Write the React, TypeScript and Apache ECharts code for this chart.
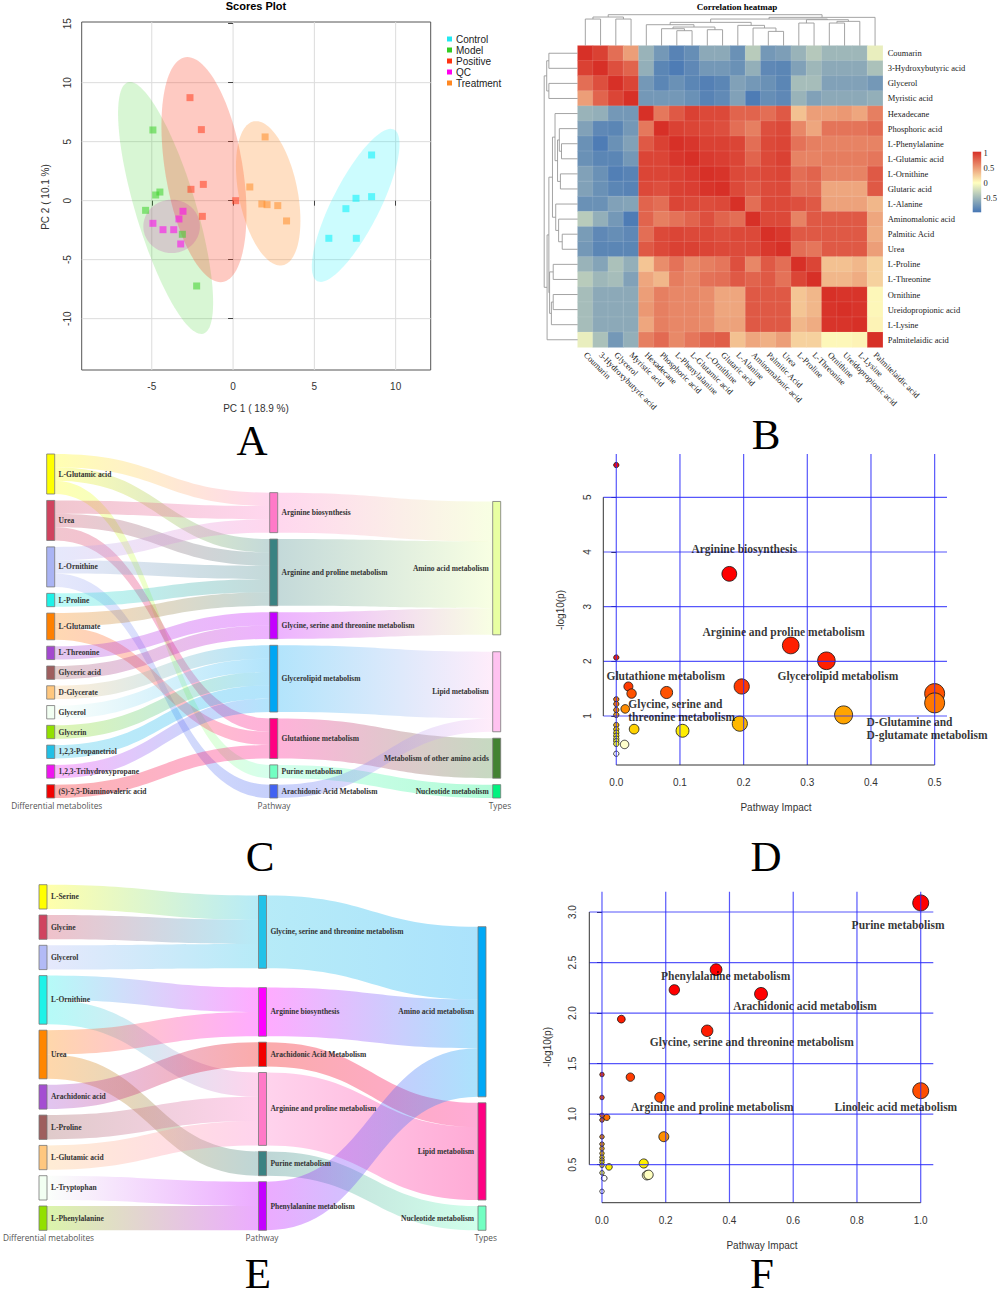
import React, { useEffect, useRef } from 'react';
import * as echarts from 'echarts';

const SERIF = "'Liberation Serif', 'Times New Roman', serif";
const SANS = "'Liberation Sans', Arial, sans-serif";
const CAPTION = "'Open Sans', 'Liberation Sans', sans-serif";

// ================= Panel A : PCA scores =================
const pcaGroups = ['Control', 'Model', 'Positive', 'QC', 'Treatment'];
const controlPC1 = [8.52, 7.56, 8.52, 6.94, 5.89, 7.58];
const controlPC2 = [3.87, 0.2, 0.34, -0.68, -3.19, -3.19];
const modelPC1 = [-4.93, -4.76, -4.5, -5.38, -3.12, -2.24];
const modelPC2 = [5.99, 0.48, 0.73, -0.82, -2.85, -7.23];
const positivePC1 = [-2.65, -1.95, -1.83, -2.59, 0.16, -1.89];
const positivePC2 = [8.73, 6.02, 1.38, 0.96, 0.0, -1.33];
const qcPC1 = [-3.08, -3.33, -4.93, -4.31, -3.65, -3.22];
const qcPC2 = [-0.9, -1.55, -1.92, -2.46, -2.46, -3.67];
const treatmentPC1 = [1.97, 1.03, 1.77, 2.09, 2.75, 3.29];
const treatmentPC2 = [5.4, 1.16, -0.28, -0.34, -0.42, -1.72];
// confidence ellipses (data units): centre, end of major semi-axis, minor/major ratio
const ellipseCX = [7.54, -4.15, -1.79, -3.78, 2.16];
const ellipseCY = [-0.4, -0.62, 2.63, -2.18, 0.62];
const ellipseTipX = [9.9, -6.47, -2.94, -3.78, 1.27];
const ellipseTipY = [6.02, 10.03, 12.15, 0.08, 6.72];
const ellipseRatio = [0.28, 0.23, 0.34, 1.06, 0.4];
const pcaTicksX = [-5, 0, 5, 10];
const pcaTicksY = [-10, -5, 0, 5, 10, 15];
const pcaLegendColors = ['#22E8F0', '#33CC22', '#FF3311', '#FF00EE', '#FF8822'];
const pcaPointColors = ['#00F0FA', '#3CD228', '#FF3C1E', '#FF00F0', '#FF8C28'];
const pcaEllipseFill = [
  'rgba(0,240,250,0.2)',
  'rgba(60,210,40,0.2)',
  'rgba(250,60,30,0.27)',
  'rgba(200,40,170,0.2)',
  'rgba(255,140,40,0.28)',
];

// ================= Panel B : correlation heatmap =================
const heatNames = [
  'Coumarin', '3-Hydroxybutyric acid', 'Glycerol', 'Myristic acid', 'Hexadecane',
  'Phosphoric acid', 'L-Phenylalanine', 'L-Glutamic acid', 'L-Ornithine', 'Glutaric acid',
  'L-Alanine', 'Aminomalonic acid', 'Palmitic Acid', 'Urea', 'L-Proline',
  'L-Threonine', 'Ornithine', 'Ureidopropionic acid', 'L-Lysine', 'Palmitelaidic acid',
];
const corrMatrix = [
  [1.0, 0.92, 0.7, 0.47, -0.55, -0.75, -0.9, -0.82, -0.62, -0.62, -0.8, -0.38, -0.75, -0.7, -0.55, -0.4, -0.52, -0.52, -0.52, -0.12],
  [0.92, 1.0, 0.85, 0.75, -0.58, -0.88, -0.95, -0.86, -0.75, -0.75, -0.8, -0.58, -0.86, -0.88, -0.68, -0.52, -0.62, -0.62, -0.62, -0.45],
  [0.7, 0.85, 1.0, 0.9, -0.75, -0.88, -0.8, -0.88, -0.92, -0.88, -0.68, -0.75, -0.8, -0.88, -0.48, -0.48, -0.68, -0.68, -0.68, -0.75],
  [0.47, 0.75, 0.9, 1.0, -0.75, -0.75, -0.75, -0.8, -0.9, -0.85, -0.68, -0.95, -0.82, -0.86, -0.55, -0.68, -0.62, -0.62, -0.62, -0.58],
  [-0.55, -0.58, -0.75, -0.75, 1.0, 0.65, 0.8, 0.92, 0.88, 0.88, 0.75, 0.75, 0.7, 0.8, 0.3, 0.47, 0.47, 0.5, 0.43, 0.62],
  [-0.68, -0.86, -0.88, -0.75, 0.65, 1.0, 0.92, 0.9, 0.88, 0.85, 0.7, 0.62, 0.85, 0.88, 0.58, 0.43, 0.67, 0.67, 0.67, 0.72],
  [-0.8, -0.95, -0.8, -0.68, 0.8, 0.92, 1.0, 0.97, 0.92, 0.92, 0.9, 0.7, 0.88, 0.9, 0.68, 0.62, 0.6, 0.6, 0.6, 0.6],
  [-0.8, -0.88, -0.88, -0.75, 0.9, 0.9, 0.97, 1.0, 0.95, 0.93, 0.9, 0.75, 0.88, 0.92, 0.6, 0.6, 0.63, 0.63, 0.63, 0.66],
  [-0.68, -0.8, -0.93, -0.9, 0.9, 0.9, 0.92, 0.95, 1.0, 0.98, 0.88, 0.85, 0.88, 0.9, 0.7, 0.75, 0.6, 0.6, 0.6, 0.8],
  [-0.68, -0.8, -0.88, -0.9, 0.88, 0.85, 0.92, 0.93, 0.98, 1.0, 0.88, 0.8, 0.87, 0.88, 0.7, 0.72, 0.43, 0.43, 0.43, 0.8],
  [-0.8, -0.8, -0.68, -0.66, 0.75, 0.7, 0.9, 0.88, 0.86, 0.88, 1.0, 0.7, 0.88, 0.88, 0.85, 0.8, 0.45, 0.45, 0.45, 0.35],
  [-0.38, -0.58, -0.75, -0.95, 0.75, 0.62, 0.68, 0.75, 0.85, 0.75, 0.7, 1.0, 0.88, 0.88, 0.6, 0.8, 0.8, 0.8, 0.8, 0.43],
  [-0.72, -0.86, -0.82, -0.86, 0.7, 0.88, 0.9, 0.88, 0.88, 0.85, 0.88, 0.88, 1.0, 0.96, 0.8, 0.8, 0.8, 0.8, 0.8, 0.4],
  [-0.75, -0.88, -0.88, -0.88, 0.8, 0.88, 0.92, 0.92, 0.9, 0.88, 0.87, 0.88, 0.96, 1.0, 0.7, 0.66, 0.8, 0.8, 0.8, 0.47],
  [-0.55, -0.66, -0.45, -0.58, 0.28, 0.55, 0.68, 0.57, 0.62, 0.66, 0.85, 0.58, 0.8, 0.7, 1.0, 0.9, 0.3, 0.3, 0.35, 0.22],
  [-0.38, -0.52, -0.48, -0.68, 0.43, 0.35, 0.63, 0.58, 0.68, 0.7, 0.8, 0.75, 0.8, 0.68, 0.9, 1.0, 0.35, 0.35, 0.4, 0.22],
  [-0.48, -0.62, -0.62, -0.62, 0.47, 0.62, 0.58, 0.58, 0.55, 0.43, 0.43, 0.8, 0.8, 0.8, 0.28, 0.35, 1.0, 0.98, 0.98, 0.04],
  [-0.48, -0.62, -0.62, -0.62, 0.5, 0.62, 0.58, 0.58, 0.55, 0.43, 0.43, 0.8, 0.8, 0.8, 0.28, 0.35, 0.98, 1.0, 0.98, 0.04],
  [-0.48, -0.62, -0.62, -0.62, 0.43, 0.62, 0.58, 0.58, 0.55, 0.45, 0.45, 0.8, 0.8, 0.8, 0.35, 0.4, 0.98, 0.98, 1.0, 0.06],
  [-0.12, -0.45, -0.75, -0.58, 0.62, 0.72, 0.57, 0.66, 0.75, 0.78, 0.3, 0.43, 0.38, 0.47, 0.22, 0.22, 0.04, 0.04, 0.06, 1.0],
];
// hierarchical clustering merges (leaves 0..19, merge k -> node 20+k), relative heights
const dendroLeft = [0, 2, 20, 6, 5, 8, 24, 4, 12, 11, 10, 27, 14, 16, 33, 32, 31, 36, 22];
const dendroRight = [1, 3, 21, 7, 23, 9, 25, 26, 13, 28, 29, 30, 15, 17, 18, 34, 35, 19, 37];
const dendroHeight = [0.86, 0.86, 0.925, 0.484, 0.548, 0.516, 0.602, 0.677, 0.462, 0.57, 0.656, 0.753, 0.731, 0.731, 0.785, 0.839, 0.86, 0.914, 1.0];
const heatScaleTicks = ['1', '0.5', '0', '-0.5'];
const heatScaleValues = [1, 0.5, 0, -0.5];

// ================= Panel C : Sankey =================
const cMetabolites = [
  'L-Glutamic acid', 'Urea', 'L-Ornithine', 'L-Proline', 'L-Glutamate', 'L-Threonine', 'Glyceric acid',
  'D-Glycerate', 'Glycerol', 'Glycerin', '1,2,3-Propanetriol', '1,2,3-Trihydroxypropane', '(S)-2,5-Diaminovaleric acid',
];
const cPathways = [
  'Arginine biosynthesis', 'Arginine and proline metabolism', 'Glycine, serine and threonine metabolism',
  'Glycerolipid metabolism', 'Glutathione metabolism', 'Purine metabolism', 'Arachidonic Acid Metabolism',
];
const cTypes = ['Amino acid metabolism', 'Lipid metabolism', 'Metabolism of other amino acids', 'Nucleotide metabolism'];
const cLinkSource = [
  'L-Glutamic acid', 'L-Glutamic acid', 'L-Glutamic acid', 'Urea', 'Urea', 'Urea',
  'L-Ornithine', 'L-Ornithine', 'L-Ornithine', 'L-Proline', 'L-Glutamate', 'L-Glutamate',
  'L-Threonine', 'Glyceric acid', 'D-Glycerate', 'Glycerol', 'Glycerin', '1,2,3-Propanetriol',
  '1,2,3-Trihydroxypropane', '(S)-2,5-Diaminovaleric acid',
  'Arginine biosynthesis', 'Arginine and proline metabolism', 'Glycine, serine and threonine metabolism',
  'Glycerolipid metabolism', 'Glutathione metabolism', 'Purine metabolism', 'Arachidonic Acid Metabolism',
];
const cLinkTarget = [
  'Arginine biosynthesis', 'Arginine and proline metabolism', 'Purine metabolism',
  'Arginine biosynthesis', 'Arginine and proline metabolism', 'Glutathione metabolism',
  'Arginine biosynthesis', 'Arginine and proline metabolism', 'Arachidonic Acid Metabolism',
  'Arginine and proline metabolism', 'Arginine and proline metabolism', 'Glutathione metabolism',
  'Glycine, serine and threonine metabolism', 'Glycine, serine and threonine metabolism',
  'Glycerolipid metabolism', 'Glycerolipid metabolism', 'Glycerolipid metabolism', 'Glycerolipid metabolism',
  'Glycerolipid metabolism', 'Glutathione metabolism',
  'Amino acid metabolism', 'Amino acid metabolism', 'Amino acid metabolism',
  'Lipid metabolism', 'Metabolism of other amino acids', 'Nucleotide metabolism', 'Lipid metabolism',
];
const cLinkValue = [1, 1, 1, 1, 1, 1, 1, 1, 1, 1, 1, 1, 1, 1, 1, 1, 1, 1, 1, 1, 3, 5, 2, 5, 3, 1, 1];
const cMetaboliteColors = ['#FFFF00', '#D0435F', '#AAB4F4', '#1EF2E8', '#FF8000', '#A348CF', '#9E5E5E', '#FFC77E', '#F2FFF2', '#92E000', '#22C0E6', '#F014F0', '#F20000'];
const cPathwayColors = ['#FF7AC8', '#3A8282', '#C400FF', '#00A6F4', '#FF0082', '#72FFC2', '#4262F2'];
const cTypeColors = ['#E8FFA2', '#FFC2F0', '#428232', '#00F27E'];

// ================= Panel D : pathway impact =================
const dImpact = [0, 0.1775, 0.274, 0.33, 0, 0.197, 0.019, 0.024, 0.079, 0.5, 0.5, 0.014, 0.357, 0.194, 0.028, 0.104, 0.013, 0, 0, 0, 0, 0, 0, 0, 0, 0, 0, 0, 0];
const dLogP = [5.59, 3.6, 2.29, 2.01, 2.07, 1.54, 1.54, 1.41, 1.43, 1.41, 1.24, 1.13, 1.02, 0.86, 0.76, 0.73, 0.48, 0.31, 1.305, 1.22, 1.11, 1.02, 0.835, 0.757, 0.695, 0.64, 0.585, 0.54, 0.49];
const dLabelText = ['Arginine biosynthesis', 'Arginine and proline metabolism', 'Glutathione metabolism', 'Glycerolipid metabolism', 'Glycine, serine and\nthreonine metabolism', 'D-Glutamine and\nD-glutamate metabolism'];
const dLabelX = [0.201, 0.263, 0.0776, 0.348, 0.0188, 0.393];
const dLabelY = [4.06, 2.54, 1.73, 1.73, 1.1, 0.777];
const dLabelAlign = ['center', 'center', 'center', 'center', 'left', 'left'];
const dTicksX = [0, 0.1, 0.2, 0.3, 0.4, 0.5];
const dTicksY = [1, 2, 3, 4, 5];

// ================= Panel E : Sankey =================
const eMetabolites = ['L-Serine', 'Glycine', 'Glycerol', 'L-Ornithine', 'Urea', 'Arachidonic acid', 'L-Proline', 'L-Glutamic acid', 'L-Tryptophan', 'L-Phenylalanine'];
const ePathways = ['Glycine, serine and threonine metabolism', 'Arginine biosynthesis', 'Arachidonic Acid Metabolism', 'Arginine and proline metabolism', 'Purine metabolism', 'Phenylalanine metabolism'];
const eTypes = ['Amino acid metabolism', 'Lipid metabolism', 'Nucleotide metabolism'];
const eLinkSource = [
  'L-Serine', 'Glycine', 'Glycerol', 'L-Ornithine', 'L-Ornithine', 'Urea', 'Urea', 'Arachidonic acid',
  'L-Proline', 'L-Glutamic acid', 'L-Tryptophan', 'L-Phenylalanine',
  'Glycine, serine and threonine metabolism', 'Arginine biosynthesis', 'Arachidonic Acid Metabolism',
  'Arginine and proline metabolism', 'Purine metabolism', 'Phenylalanine metabolism',
];
const eLinkTarget = [
  'Glycine, serine and threonine metabolism', 'Glycine, serine and threonine metabolism', 'Glycine, serine and threonine metabolism',
  'Arginine biosynthesis', 'Arginine and proline metabolism', 'Arginine biosynthesis', 'Purine metabolism',
  'Arachidonic Acid Metabolism', 'Arginine and proline metabolism', 'Arginine and proline metabolism',
  'Phenylalanine metabolism', 'Phenylalanine metabolism',
  'Amino acid metabolism', 'Amino acid metabolism', 'Lipid metabolism', 'Lipid metabolism',
  'Nucleotide metabolism', 'Amino acid metabolism',
];
const eLinkValue = [1, 1, 1, 1, 1, 1, 1, 1, 1, 1, 1, 1, 3, 2, 1, 3, 1, 2];
const eMetaboliteColors = ['#FFFF00', '#D0435F', '#B2BAF6', '#1EF2E8', '#FF8600', '#A44ED2', '#9E5E5E', '#FFC77E', '#F2FFF2', '#92E000'];
const ePathwayColors = ['#22C2E8', '#FF00FF', '#F20000', '#FF7AC8', '#3A8282', '#C400FF'];
const eTypeColors = ['#00A8F6', '#FF0082', '#72FFC2'];

// ================= Panel F : pathway impact =================
const fImpact = [1.0, 0.358, 0.227, 0.499, 0.0607, 0.33, 0.089, 0.181, 1.0, 0.015, 0.194, 0.131, 0.022, 0.141, 0.146, 0.007, 0, 0, 0, 0, 0, 0, 0, 0, 0, 0, 0, 0, 0, 0];
const fLogP = [3.09, 2.43, 2.23, 2.19, 1.94, 1.825, 1.366, 1.167, 1.232, 0.968, 0.777, 0.512, 0.478, 0.395, 0.4, 0.366, 1.392, 1.165, 0.988, 0.942, 0.776, 0.704, 0.66, 0.612, 0.573, 0.546, 0.523, 0.494, 0.42, 0.236];
const fLabelText = ['Purine metabolism', 'Phenylalanine metabolism', 'Arachidonic acid metabolism', 'Glycine, serine and threonine metabolism', 'Arginine and proline metabolism', 'Linoleic acid metabolism'];
const fLabelX = [0.929, 0.388, 0.637, 0.47, 0.346, 0.922];
const fLabelY = [2.869, 2.363, 2.074, 1.714, 1.067, 1.073];
const fTicksX = [0, 0.2, 0.4, 0.6, 0.8, 1.0];
const fTicksY = [0.5, 1.0, 1.5, 2.0, 2.5, 3.0];

// ---------------------------------------------------------------
function segSeries(axis: number, segs: number[][], color: string, width: number, z: number) {
  return {
    type: 'custom',
    xAxisIndex: axis,
    yAxisIndex: axis,
    silent: true,
    clip: false,
    z,
    data: segs,
    encode: { x: [0, 2], y: [1, 3] },
    renderItem: (_p: any, api: any) => {
      const a = api.coord([api.value(0), api.value(1)]);
      const b = api.coord([api.value(2), api.value(3)]);
      return {
        type: 'line',
        shape: { x1: a[0], y1: a[1], x2: b[0], y2: b[1] },
        style: { stroke: color, lineWidth: width },
      };
    },
  };
}

function sankeyNodes(
  cols: string[][], colColors: string[][], srcs: string[], tgts: string[], vals: number[],
  height: number, gap: number, align: string[], extraGap: Record<string, number>,
) {
  const inSum: Record<string, number> = {};
  const outSum: Record<string, number> = {};
  srcs.forEach((s, i) => {
    outSum[s] = (outSum[s] || 0) + vals[i];
    inSum[tgts[i]] = (inSum[tgts[i]] || 0) + vals[i];
  });
  const nv = (n: string) => Math.max(inSum[n] || 0, outSum[n] || 0);
  const ky = Math.min(...cols.map((col) => (height - (col.length - 1) * gap) / col.reduce((s, n) => s + nv(n), 0)));
  const nodes: any[] = [];
  cols.forEach((col, ci) => {
    const extra = col.reduce((s, n) => s + (extraGap[n] || 0), 0);
    const total = col.reduce((s, n) => s + nv(n) * ky, 0) + (col.length - 1) * gap + extra;
    let y = align[ci] === 'top' ? 0 : height - total;
    col.forEach((n, ni) => {
      y += extraGap[n] || 0;
      const node: any = { name: n, localY: y / height, itemStyle: { color: colColors[ci][ni] } };
      if (ci === cols.length - 1) node.label = { position: 'left' };
      nodes.push(node);
      y += nv(n) * ky + gap;
    });
  });
  return nodes;
}

function txt(text: string, x: number, y: number, o: any) {
  return {
    type: 'text',
    x,
    y,
    rotation: o.rot || 0,
    silent: true,
    z: 100,
    style: {
      text,
      fill: o.color || '#000',
      fontSize: o.size,
      fontFamily: o.family,
      fontWeight: o.weight || 'normal',
      align: o.align || 'center',
      verticalAlign: o.va || 'middle',
    },
  };
}

function buildOption() {
  const series: any[] = [];

  // ---------- A ----------
  const A = { xMin: -9.31, xMax: 12.155, yMin: -14.35, yMax: 15.14 };
  const pcaX = [controlPC1, modelPC1, positivePC1, qcPC1, treatmentPC1];
  const pcaY = [controlPC2, modelPC2, positivePC2, qcPC2, treatmentPC2];
  series.push(
    segSeries(
      0,
      [
        ...pcaTicksX.map((v) => [v, A.yMin, v, A.yMax]),
        ...pcaTicksY.filter((v) => v < A.yMax - 0.5).map((v) => [A.xMin, v, A.xMax, v]),
      ],
      '#DCDCDC',
      1,
      0,
    ),
  );
  series.push({
    type: 'custom',
    name: 'ellipses',
    xAxisIndex: 0,
    yAxisIndex: 0,
    silent: true,
    clip: false,
    z: 1,
    data: pcaGroups.map((_g, i) => [ellipseCX[i], ellipseCY[i], ellipseTipX[i], ellipseTipY[i], ellipseRatio[i], i]),
    encode: { x: 0, y: 1 },
    renderItem: (_p: any, api: any) => {
      const c = api.coord([api.value(0), api.value(1)]);
      const t = api.coord([api.value(2), api.value(3)]);
      const ratio = api.value(4);
      const gi = api.value(5);
      const dx = t[0] - c[0];
      const dy = t[1] - c[1];
      const a = Math.hypot(dx, dy);
      const b = a * ratio;
      const ux = dx / a;
      const uy = dy / a;
      const pts: number[][] = [];
      for (let k = 0; k < 120; k++) {
        const th = (k / 120) * Math.PI * 2;
        const ca = Math.cos(th) * a;
        const sb = Math.sin(th) * b;
        pts.push([c[0] + ca * ux - sb * uy, c[1] + ca * uy + sb * ux]);
      }
      return { type: 'polygon', shape: { points: pts }, style: { fill: pcaEllipseFill[gi], stroke: null } };
    },
  });
  pcaGroups.forEach((g, i) => {
    series.push({
      type: 'scatter',
      name: g,
      xAxisIndex: 0,
      yAxisIndex: 0,
      symbol: 'rect',
      symbolSize: 7,
      z: 3,
      color: pcaLegendColors[i],
      itemStyle: { color: pcaPointColors[i], opacity: 0.55 },
      data: pcaX[i].map((x, j) => [x, pcaY[i][j]]),
    });
  });

  // ---------- B ----------
  const heatData: number[][] = [];
  corrMatrix.forEach((row, r) => row.forEach((v, c) => heatData.push([c, r, v])));
  const heatIndex = series.length;
  series.push({
    type: 'heatmap',
    xAxisIndex: 1,
    yAxisIndex: 1,
    data: heatData,
    itemStyle: { borderColor: 'rgba(255,255,255,0.22)', borderWidth: 0.5 },
    emphasis: { disabled: true },
    silent: true,
  });
  series.push({
    type: 'custom',
    xAxisIndex: 1,
    yAxisIndex: 1,
    silent: true,
    clip: false,
    z: 3,
    data: [[0, 0]],
    renderItem: (_p: any, api: any) => {
      const p0 = api.coord([0, 0]);
      const p1 = api.coord([1, 1]);
      const cw = p1[0] - p0[0];
      const ch = p1[1] - p0[1];
      const top = p0[1] - ch / 2;
      const left = p0[0] - cw / 2;
      const TOP_H = 31;
      const LEFT_W = 33.5;
      const pos: number[] = [];
      const hgt: number[] = [];
      for (let i = 0; i < heatNames.length; i++) {
        pos.push(i);
        hgt.push(0);
      }
      const children: any[] = [];
      const st = { stroke: '#9A9A9A', lineWidth: 0.9, fill: null };
      dendroLeft.forEach((l, k) => {
        const r = dendroRight[k];
        const h = dendroHeight[k];
        const xl = p0[0] + pos[l] * cw;
        const xr = p0[0] + pos[r] * cw;
        const ym = top - h * TOP_H;
        children.push({
          type: 'polyline',
          shape: { points: [[xl, top - hgt[l] * TOP_H], [xl, ym], [xr, ym], [xr, top - hgt[r] * TOP_H]] },
          style: st,
        });
        const yl = p0[1] + pos[l] * ch;
        const yr = p0[1] + pos[r] * ch;
        const xm = left - h * LEFT_W;
        children.push({
          type: 'polyline',
          shape: { points: [[left - hgt[l] * LEFT_W, yl], [xm, yl], [xm, yr], [left - hgt[r] * LEFT_W, yr]] },
          style: st,
        });
        pos.push((pos[l] + pos[r]) / 2);
        hgt.push(h);
      });
      return { type: 'group', children };
    },
  });

  const sankeyLabel = { color: '#333', fontFamily: SERIF, fontWeight: 'bold', fontSize: 7.5, distance: 3.5 };

  // ---------- C ----------
  const cCols = [cMetabolites, cPathways, cTypes];
  const C_H = 344;
  const C_GAP = 6.44;
  series.push({
    type: 'sankey',
    left: 46.7,
    top: 454,
    width: 454,
    height: C_H,
    nodeWidth: 8,
    nodeGap: C_GAP,
    layoutIterations: 0,
    draggable: false,
    silent: true,
    data: sankeyNodes(cCols, [cMetaboliteColors, cPathwayColors, cTypeColors], cLinkSource, cLinkTarget, cLinkValue, C_H, C_GAP, ['top', 'bottom', 'bottom'], { 'Lipid metabolism': 10.5 }),
    links: cLinkSource.map((s, i) => ({ source: s, target: cLinkTarget[i], value: cLinkValue[i] })),
    lineStyle: { color: 'gradient', opacity: 0.3, curveness: 0.5 },
    itemStyle: { borderColor: '#777', borderWidth: 0.8 },
    label: sankeyLabel,
    emphasis: { disabled: true },
  });

  // ---------- E ----------
  const eCols = [eMetabolites, ePathways, eTypes];
  const E_H = 345.6;
  const E_GAP = 6;
  series.push({
    type: 'sankey',
    left: 39,
    top: 884.7,
    width: 447,
    height: E_H,
    nodeWidth: 8,
    nodeGap: E_GAP,
    layoutIterations: 0,
    draggable: false,
    silent: true,
    data: sankeyNodes(eCols, [eMetaboliteColors, ePathwayColors, eTypeColors], eLinkSource, eLinkTarget, eLinkValue, E_H, E_GAP, ['top', 'bottom', 'bottom'], { 'Arginine biosynthesis': 13.3 }),
    links: eLinkSource.map((s, i) => ({ source: s, target: eLinkTarget[i], value: eLinkValue[i] })),
    lineStyle: { color: 'gradient', opacity: 0.33, curveness: 0.5 },
    itemStyle: { borderColor: '#777', borderWidth: 0.8 },
    label: sankeyLabel,
    emphasis: { disabled: true },
  });

  // ---------- D ----------
  const D = { xMin: -0.0204, xMax: 0.5194, yMin: 0.104, yMax: 5.792 };
  const dIndex = series.length;
  series.push({
    type: 'scatter',
    xAxisIndex: 2,
    yAxisIndex: 2,
    symbol: 'circle',
    symbolSize: (v: number[]) => 5.3 + 14.7 * Math.pow(v[0] / 0.5, 0.42),
    itemStyle: { borderColor: '#111', borderWidth: 0.8, opacity: 1 },
    z: 3,
    silent: true,
    data: dImpact.map((x, i) => [x, dLogP[i]]),
  });
  series.push(
    segSeries(
      2,
      [...dTicksX.map((v) => [v, D.yMin, v, D.yMax]), ...dTicksY.map((v) => [D.xMin, v, D.xMax, v])],
      'rgba(40,40,250,0.78)',
      1.2,
      5,
    ),
  );
  series.push(
    segSeries(
      2,
      [
        [D.xMin, dTicksY[0], D.xMin, dTicksY[dTicksY.length - 1]],
        [dTicksX[0], D.yMin, dTicksX[dTicksX.length - 1], D.yMin],
      ],
      '#333',
      1,
      6,
    ),
  );
  series.push({
    type: 'scatter',
    xAxisIndex: 2,
    yAxisIndex: 2,
    symbolSize: 0,
    z: 10,
    silent: true,
    itemStyle: { color: 'transparent' },
    data: dLabelText.map((t, i) => ({ name: t, value: [dLabelX[i], dLabelY[i]], label: { align: dLabelAlign[i] } })),
    label: { show: true, position: 'inside', formatter: '{b}', fontFamily: SERIF, fontWeight: 'bold', fontSize: 11.5, color: '#000', lineHeight: 13 },
  });

  // ---------- F ----------
  const F = { xMin: -0.0398, xMax: 1.0395, yMin: 0.124, yMax: 3.201 };
  const fIndex = series.length;
  series.push({
    type: 'scatter',
    xAxisIndex: 3,
    yAxisIndex: 3,
    symbol: 'circle',
    symbolSize: (v: number[]) => 4.5 + 11.5 * Math.pow(v[0], 0.45),
    itemStyle: { borderColor: '#111', borderWidth: 0.8, opacity: 1 },
    z: 3,
    silent: true,
    data: fImpact.map((x, i) => [x, fLogP[i]]),
  });
  series.push(
    segSeries(
      3,
      [...fTicksX.map((v) => [v, F.yMin, v, F.yMax]), ...fTicksY.map((v) => [F.xMin, v, F.xMax, v])],
      'rgba(40,40,250,0.78)',
      1.2,
      5,
    ),
  );
  series.push(
    segSeries(
      3,
      [
        [F.xMin, fTicksY[0], F.xMin, fTicksY[fTicksY.length - 1]],
        [fTicksX[0], F.yMin, fTicksX[fTicksX.length - 1], F.yMin],
      ],
      '#333',
      1,
      6,
    ),
  );
  series.push({
    type: 'scatter',
    xAxisIndex: 3,
    yAxisIndex: 3,
    symbolSize: 0,
    z: 10,
    silent: true,
    itemStyle: { color: 'transparent' },
    data: fLabelText.map((t, i) => ({ name: t, value: [fLabelX[i], fLabelY[i]] })),
    label: { show: true, position: 'inside', formatter: '{b}', fontFamily: SERIF, fontWeight: 'bold', fontSize: 11.5, color: '#000' },
  });

  const tickLbl = { fontFamily: SANS, fontSize: 10, color: '#333' };
  const noLine = { show: false };
  const letter = { size: 43, family: SERIF, va: 'bottom' };

  const graphics: any[] = [
    txt('Scores Plot', 256, 6, { size: 11, family: SANS, weight: 'bold' }),
    txt('PC 1 ( 18.9 %)', 256, 408.5, { size: 10, family: SANS, color: '#333' }),
    txt('PC 2 ( 10.1 %)', 45, 197, { size: 10, family: SANS, color: '#333', rot: Math.PI / 2 }),
    txt('Correlation heatmap', 737, 7, { size: 9, family: SERIF, weight: 'bold' }),
    {
      type: 'rect',
      silent: true,
      shape: { x: 972.7, y: 151.7, width: 8.5, height: 60.6 },
      style: {
        fill: new echarts.graphic.LinearGradient(0, 0, 0, 1, [
          { offset: 0, color: '#D73027' },
          { offset: 0.515, color: '#FFFFBF' },
          { offset: 1, color: '#4575B4' },
        ]),
      },
    },
    ...heatScaleTicks.map((t, i) => txt(t, 983.5, 182.7 - heatScaleValues[i] * 29.6, { size: 8.5, family: SERIF, align: 'left', color: '#222' })),
    txt('-log10(p)', 560, 610, { size: 10, family: SANS, color: '#333', rot: Math.PI / 2 }),
    txt('Pathway Impact', 776, 807, { size: 10, family: SANS, color: '#333' }),
    txt('-log10(p)', 547, 1047, { size: 10, family: SANS, color: '#333', rot: Math.PI / 2 }),
    txt('Pathway Impact', 762, 1245, { size: 10, family: SANS, color: '#333' }),
    txt('Differential metabolites', 56.7, 805.7, { size: 8.3, family: CAPTION, color: '#555' }),
    txt('Pathway', 274, 805.7, { size: 8.3, family: CAPTION, color: '#555' }),
    txt('Types', 500, 805.7, { size: 8.3, family: CAPTION, color: '#555' }),
    txt('Differential metabolites', 48.5, 1237.7, { size: 8.3, family: CAPTION, color: '#555' }),
    txt('Pathway', 262, 1237.7, { size: 8.3, family: CAPTION, color: '#555' }),
    txt('Types', 485.7, 1237.7, { size: 8.3, family: CAPTION, color: '#555' }),
    txt('A', 252, 462, letter),
    txt('B', 766, 456, letter),
    txt('C', 260, 878, letter),
    txt('D', 766, 878, letter),
    txt('E', 258, 1295, letter),
    txt('F', 762, 1295, letter),
  ];

  return {
    animation: false,
    backgroundColor: '#fff',
    textStyle: { fontFamily: SANS },
    grid: [
      { left: 81.7, top: 22, width: 349, height: 348, show: true, borderColor: '#555', borderWidth: 1, backgroundColor: 'transparent' },
      { left: 577.7, top: 45.7, width: 305, height: 301.6 },
      { left: 603.3, top: 454, width: 343.7, height: 311 },
      { left: 589.3, top: 891.7, width: 344, height: 311 },
    ],
    legend: {
      data: pcaGroups.map((g, i) => ({ name: g, itemStyle: { color: pcaLegendColors[i], opacity: 1 } })),
      orient: 'vertical',
      left: 442,
      top: 28.5,
      itemWidth: 5,
      itemHeight: 5,
      itemGap: 0,
      icon: 'rect',
      selectedMode: false,
      itemStyle: { opacity: 1 },
      textStyle: { fontFamily: SANS, fontSize: 10, color: '#222', lineHeight: 11, padding: [0, 0, 0, -1] },
    },
    xAxis: [
      {
        gridIndex: 0, type: 'value', min: A.xMin, max: A.xMax,
        axisLine: noLine, splitLine: noLine,
        axisTick: { show: true, customValues: pcaTicksX, length: 5, lineStyle: { color: '#444' } },
        axisLabel: { ...tickLbl, customValues: pcaTicksX, margin: 11 },
      },
      {
        gridIndex: 1, type: 'category', data: heatNames, position: 'bottom',
        axisLine: noLine, axisTick: noLine, splitLine: noLine,
        axisLabel: { interval: 0, rotate: -45, fontFamily: SERIF, fontSize: 8.5, color: '#222', margin: 6 },
      },
      {
        gridIndex: 2, type: 'value', min: D.xMin, max: D.xMax,
        axisLine: noLine, splitLine: noLine, axisTick: noLine,
        axisLabel: { ...tickLbl, customValues: dTicksX, margin: 12, formatter: (v: number) => v.toFixed(1) },
      },
      {
        gridIndex: 3, type: 'value', min: F.xMin, max: F.xMax,
        axisLine: noLine, splitLine: noLine, axisTick: noLine,
        axisLabel: { ...tickLbl, customValues: fTicksX, margin: 13, formatter: (v: number) => v.toFixed(1) },
      },
    ],
    yAxis: [
      {
        gridIndex: 0, type: 'value', min: A.yMin, max: A.yMax,
        axisLine: noLine, splitLine: noLine,
        axisTick: { show: true, customValues: pcaTicksY, length: 5, lineStyle: { color: '#444' } },
        axisLabel: { ...tickLbl, customValues: pcaTicksY, rotate: 90, margin: 9 },
      },
      {
        gridIndex: 1, type: 'category', data: heatNames, inverse: true, position: 'right',
        axisLine: noLine, axisTick: noLine, splitLine: noLine,
        axisLabel: { interval: 0, fontFamily: SERIF, fontSize: 8.5, color: '#222', margin: 5 },
      },
      {
        gridIndex: 2, type: 'value', min: D.yMin, max: D.yMax,
        axisLine: noLine, splitLine: noLine,
        axisTick: { show: true, customValues: dTicksY, length: 5, lineStyle: { color: '#333' } },
        axisLabel: { ...tickLbl, customValues: dTicksY, rotate: 90, margin: 11 },
      },
      {
        gridIndex: 3, type: 'value', min: F.yMin, max: F.yMax,
        axisLine: noLine, splitLine: noLine,
        axisTick: { show: true, customValues: fTicksY, length: 5, lineStyle: { color: '#333' } },
        axisLabel: { ...tickLbl, customValues: fTicksY, rotate: 90, margin: 12, formatter: (v: number) => v.toFixed(1) },
      },
    ],
    visualMap: [
      {
        type: 'continuous', show: false, seriesIndex: heatIndex, dimension: 2, min: -1, max: 1,
        inRange: { color: ['#4575B4', '#FFFFBF', '#D73027'] },
      },
      {
        type: 'piecewise', show: false, seriesIndex: dIndex, dimension: 1,
        pieces: [
          { min: 2.5, color: '#FF0000' },
          { min: 1.8, max: 2.5, color: '#FF2000' },
          { min: 1.5, max: 1.8, color: '#FF3A00' },
          { min: 1.35, max: 1.5, color: '#FF5200' },
          { min: 1.2, max: 1.35, color: '#FF7800' },
          { min: 1.05, max: 1.2, color: '#FF8C00' },
          { min: 0.95, max: 1.05, color: '#FFA400' },
          { min: 0.8, max: 0.95, color: '#FFB800' },
          { min: 0.74, max: 0.8, color: '#FFD200' },
          { min: 0.6, max: 0.74, color: '#FFEE00' },
          { min: 0.485, max: 0.6, color: '#FFFF30' },
          { min: 0.35, max: 0.485, color: '#FFFFCC' },
          { max: 0.35, color: '#FFFFFF' },
        ],
      },
      {
        type: 'piecewise', show: false, seriesIndex: fIndex, dimension: 1,
        pieces: [
          { min: 2.1, color: '#FF0000' },
          { min: 1.7, max: 2.1, color: '#FF1C00' },
          { min: 1.3, max: 1.7, color: '#FF3C00' },
          { min: 1.1, max: 1.3, color: '#FF4E00' },
          { min: 0.9, max: 1.1, color: '#FF7000' },
          { min: 0.75, max: 0.9, color: '#FF9000' },
          { min: 0.68, max: 0.75, color: '#FFA000' },
          { min: 0.63, max: 0.68, color: '#FFB000' },
          { min: 0.58, max: 0.63, color: '#FFC400' },
          { min: 0.535, max: 0.58, color: '#FFD800' },
          { min: 0.46, max: 0.535, color: '#FFF000' },
          { min: 0.41, max: 0.46, color: '#FFFF60' },
          { min: 0.38, max: 0.41, color: '#FFFFC0' },
          { max: 0.38, color: '#FFFFFF' },
        ],
      },
    ],
    graphic: graphics,
    series,
  };
}

export default function App() {
  const ref = useRef<HTMLDivElement>(null);
  useEffect(() => {
    if (!ref.current) return;
    const chart = echarts.init(ref.current, null, { renderer: 'svg' });
    chart.setOption(buildOption() as any);
    return () => chart.dispose();
  }, []);
  return (
    <div
      ref={ref}
      style={{ position: 'absolute', left: 0, top: 0, width: 998, height: 1301, background: '#fff' }}
    />
  );
}
